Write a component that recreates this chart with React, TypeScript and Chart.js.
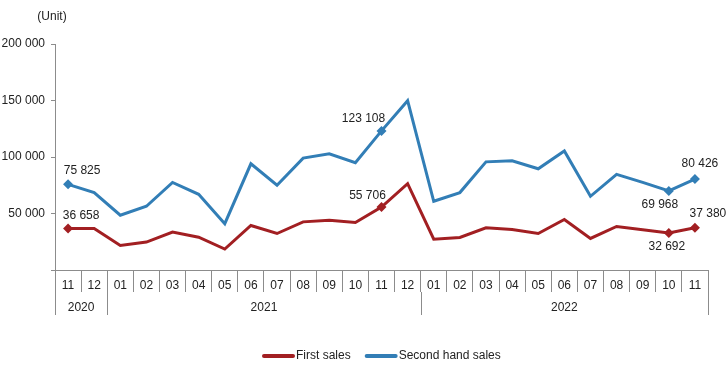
import React, { useEffect, useRef } from "react";
import { Chart, registerables } from "chart.js";

Chart.register(...registerables);

const months = ["11","12","01","02","03","04","05","06","07","08","09","10","11","12","01","02","03","04","05","06","07","08","09","10","11"];
const years = ["2020", "2021", "2022"];
const yearSpans = [2, 12, 11];
const firstSales = [36658, 36700, 21700, 24700, 33500, 29000, 18500, 39400, 32300, 42600, 44000, 42000, 55706, 76400, 27300, 28800, 37300, 35800, 32300, 44700, 27900, 38500, 35700, 32692, 37380];
const secondHandSales = [75825, 68500, 48500, 56400, 77500, 67000, 41000, 94000, 75000, 99000, 102800, 95000, 123108, 149800, 60800, 68500, 95700, 96600, 89600, 105400, 65200, 84600, 77500, 69968, 80426];
const labeledIndices = [0, 12, 23, 24];
const unitLabel = "(Unit)";
const yTicks = [0, 50000, 100000, 150000, 200000];

const RED = "#A21F22";
const BLUE = "#327EB6";
const GRID = "#8c8c8c";
const FONT = "'Liberation Sans', Arial, sans-serif";

const fmt = (v: number) => String(v).replace(/\B(?=(\d{3})+(?!\d))/g, " ");

// label offsets per dataset and labeled index (dx, dy)
const labelOffsets: Record<string, [number, number]> = {
  "0-0": [13, -13],
  "0-12": [-14, -11],
  "0-23": [-2, 14],
  "0-24": [13, -14],
  "1-0": [14, -14],
  "1-12": [-18, -12],
  "1-23": [-9, 14],
  "1-24": [5, -15],
};

const extrasPlugin = {
  id: "extras",
  afterDraw(chart: any) {
    const ctx = chart.ctx;
    const area = chart.chartArea;
    ctx.save();
    ctx.font = `12px ${FONT}`;
    ctx.fillStyle = "#222";
    ctx.textAlign = "center";
    ctx.textBaseline = "middle";
    ctx.fillText(unitLabel, 52, 17);

    // year separators and labels
    const n = months.length;
    const w = (area.right - area.left) / n;
    const top = area.bottom;
    const sepTop = top + 22;
    const sepBottom = top + 45;
    ctx.strokeStyle = GRID;
    ctx.lineWidth = 1;
    let start = 0;
    const bounds: number[] = [0];
    yearSpans.forEach((s) => { start += s; bounds.push(start); });
    bounds.forEach((b) => {
      const x = Math.round(area.left + b * w) + 0.5;
      ctx.beginPath();
      ctx.moveTo(x, b === 0 ? top : sepTop);
      ctx.lineTo(x, sepBottom);
      ctx.stroke();
    });
    ctx.fillStyle = "#222";
    years.forEach((y, i) => {
      const cx = area.left + ((bounds[i] + bounds[i + 1]) / 2) * w;
      ctx.fillText(y, cx, top + 38);
    });

    // data labels
    chart.data.datasets.forEach((ds: any, di: number) => {
      const meta = chart.getDatasetMeta(di);
      labeledIndices.forEach((idx) => {
        const el = meta.data[idx];
        const off = labelOffsets[`${di}-${idx}`] || [0, -12];
        ctx.fillText(fmt(ds.data[idx]), el.x + off[0], el.y + off[1]);
      });
    });

    // legend
    const ly = 356;
    let lx = 263;
    ctx.textAlign = "left";
    chart.data.datasets.forEach((ds: any) => {
      ctx.strokeStyle = ds.borderColor;
      ctx.lineWidth = 4;
      ctx.lineCap = "round";
      ctx.beginPath();
      ctx.moveTo(lx + 1, ly);
      ctx.lineTo(lx + 30, ly);
      ctx.stroke();
      lx += 33;
      ctx.fillStyle = "#222";
      ctx.fillText(ds.label, lx, ly);
      lx += ctx.measureText(ds.label).width + 15;
    });
    ctx.restore();
  },
};

export default function App() {
  const ref = useRef<HTMLCanvasElement>(null);
  useEffect(() => {
    if (!ref.current) return;
    const pointR = (c: any) => (labeledIndices.includes(c.dataIndex) ? 5 : 0);
    const chart = new Chart(ref.current, {
      type: "line",
      data: {
        labels: months,
        datasets: [
          {
            label: "First sales",
            data: firstSales,
            borderColor: RED,
            backgroundColor: RED,
            borderWidth: 3,
            tension: 0,
            pointStyle: "rectRot",
            pointRadius: pointR,
            pointHoverRadius: pointR,
            pointBorderWidth: 0,
          },
          {
            label: "Second hand sales",
            data: secondHandSales,
            borderColor: BLUE,
            backgroundColor: BLUE,
            borderWidth: 3,
            tension: 0,
            pointStyle: "rectRot",
            pointRadius: pointR,
            pointHoverRadius: pointR,
            pointBorderWidth: 0,
          },
        ],
      },
      options: {
        responsive: false,
        animation: false,
        layout: { padding: { top: 44, right: 20, bottom: 50, left: 0 } },
        plugins: {
          legend: { display: false },
          tooltip: { enabled: false },
        },
        scales: {
          x: {
            offset: true,
            grid: {
              offset: true,
              drawOnChartArea: false,
              drawTicks: true,
              tickLength: 22,
              color: GRID,
            },
            border: { color: GRID },
            ticks: {
              padding: -14,
              color: "#222",
              maxRotation: 0,
              autoSkip: false,
              font: { family: FONT, size: 12 },
            },
            afterFit: (s: any) => { s.height = 70; },
          },
          y: {
            min: 0,
            max: 200000,
            afterBuildTicks: (s: any) => { s.ticks = yTicks.map((v) => ({ value: v })); },
            grid: { drawOnChartArea: false, tickLength: 4, color: GRID },
            border: { color: GRID },
            ticks: {
              padding: 6,
              color: "#222",
              font: { family: FONT, size: 12 },
              callback: (v: any) => (v === 0 ? "" : fmt(Number(v))),
            },
            afterFit: (s: any) => { s.width = 55; },
          },
        },
      },
      plugins: [extrasPlugin],
    });
    return () => chart.destroy();
  }, []);
  return (
    <div style={{ position: "fixed", left: 0, top: 0, width: 728, height: 390, background: "#fff" }}>
      <canvas ref={ref} width={728} height={390} />
    </div>
  );
}
